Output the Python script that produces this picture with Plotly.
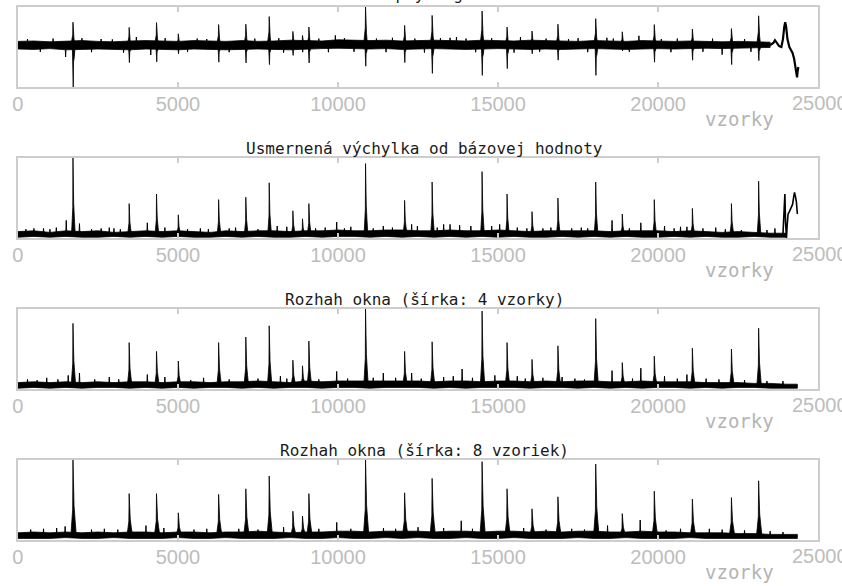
import plotly.graph_objects as go

# ---------------------------------------------------------------------------
# Data (sample index on x, arbitrary amplitude units on y)
# ---------------------------------------------------------------------------

# envelope nodes of the background noise band
band_x = list(range(0, 24001, 500)) + [24350]

# --- panel 1: raw signal (bipolar beats) ---
raw_hi = [0.14, 0.15, 0.13, 0.14, 0.16, 0.14, 0.13, 0.15, 0.16, 0.15, 0.14, 0.16,
          0.15, 0.14, 0.16, 0.14, 0.15, 0.17, 0.16, 0.15, 0.18, 0.17, 0.16, 0.17,
          0.15, 0.16, 0.17, 0.16, 0.15, 0.17, 0.16, 0.15, 0.17, 0.16, 0.15, 0.14,
          0.16, 0.15, 0.14, 0.16, 0.15, 0.14, 0.15, 0.14, 0.13, 0.14, 0.13, 0.12]
raw_lo = [-0.05, -0.06, -0.04, -0.07, -0.06, -0.05, -0.06, -0.07, -0.05, -0.06, -0.07, -0.05,
          -0.06, -0.07, -0.06, -0.05, -0.06, -0.07, -0.05, -0.04, -0.03, -0.04, -0.05, -0.04,
          -0.06, -0.05, -0.04, -0.05, -0.06, -0.05, -0.04, -0.05, -0.06, -0.05, -0.06, -0.05,
          -0.04, -0.05, -0.06, -0.05, -0.04, -0.05, -0.04, -0.03, -0.04, -0.03, -0.02, -0.01]
raw_base = 0.05
beat_pos = [1720, 3475, 4330, 5010, 6270, 7120, 7850, 8590, 8890, 9090, 10860, 12080,
            12940, 14500, 15280, 16060, 16870, 18050, 18880, 19880, 21070, 22290, 23140]
raw_up = [0.62, 0.49, 0.61, 0.33, 0.56, 0.57, 0.76, 0.39, 0.29, 0.50, 1.00, 0.54,
          0.79, 0.90, 0.50, 0.40, 0.57, 0.71, 0.38, 0.56, 0.45, 0.46, 0.78]
raw_down = [-1.00, -0.39, -0.37, -0.17, -0.38, -0.40, -0.44, -0.21, -0.13, -0.40, -0.48, -0.39,
            -0.66, -0.71, -0.54, -0.17, -0.33, -0.71, -0.10, -0.38, -0.33, -0.44, -0.34]
raw_minor_pos = [300, 700, 1100, 1490, 2000, 2300, 2600, 2950, 3300, 3700, 4150, 4600,
                 5300, 5600, 5900, 6600, 7400, 8150, 8300, 9400, 9700, 9917, 10200, 10500,
                 11200, 11500, 11700, 12400, 12700, 13200, 13500, 13700, 14000, 14300, 14800,
                 15500, 15700, 16300, 16500, 17200, 17500, 17800, 18400, 18600, 19100, 19400,
                 20100, 20400, 20600, 21400, 21700, 22000, 22700, 22900]
raw_minor_val = [0.20, -0.12, 0.21, -0.25, 0.22, -0.13, 0.20, 0.19, -0.14, 0.25, -0.20, 0.22,
                 -0.12, 0.21, 0.20, -0.13, 0.21, 0.22, -0.14, 0.21, -0.13, 0.29, 0.22, -0.12,
                 0.21, -0.13, 0.23, 0.21, -0.14, 0.22, 0.23, 0.25, 0.21, -0.13, 0.22,
                 -0.14, 0.25, -0.12, 0.21, 0.20, 0.22, -0.13, 0.23, 0.21, -0.12, 0.28,
                 0.20, -0.13, 0.21, -0.12, 0.21, -0.19, 0.20, -0.12]
raw_tail_x = [23500, 23600, 23650, 23700, 23780, 23850, 23900, 23940, 23970, 24000, 24040,
              24100, 24150, 24200, 24250, 24290, 24320, 24340, 24360, 24380]
raw_tail_y = [0.05, 0.10, 0.17, 0.12, 0.02, 0.00, 0.20, 0.50, 0.62, 0.50, 0.20,
              0.00, -0.08, -0.15, -0.30, -0.50, -0.70, -0.76, -0.60, -0.50]

# --- panel 2: rectified deviation from baseline ---
dev_hi = [0.08, 0.09, 0.07, 0.09, 0.08, 0.09, 0.07, 0.08, 0.09, 0.08, 0.09, 0.08,
          0.07, 0.09, 0.08, 0.09, 0.09, 0.08, 0.09, 0.09, 0.10, 0.09, 0.09, 0.10,
          0.10, 0.09, 0.09, 0.10, 0.09, 0.09, 0.10, 0.09, 0.08, 0.09, 0.09, 0.09,
          0.09, 0.08, 0.09, 0.09, 0.09, 0.08, 0.09, 0.08, 0.07, 0.08, 0.07, 0.06, 0.06]
dev_lo = [0.01, 0.02, 0.01, 0.02, 0.01, 0.01, 0.02, 0.01, 0.02, 0.01, 0.02, 0.01,
          0.01, 0.02, 0.01, 0.02, 0.01, 0.01, 0.02, 0.01, 0.02, 0.02, 0.01, 0.02,
          0.01, 0.02, 0.01, 0.02, 0.01, 0.02, 0.01, 0.02, 0.01, 0.01, 0.02, 0.01,
          0.02, 0.01, 0.02, 0.01, 0.01, 0.02, 0.01, 0.02, 0.01, 0.01, 0.02, 0.01, 0.01]
dev_peak = [1.00, 0.43, 0.55, 0.29, 0.48, 0.51, 0.69, 0.34, 0.24, 0.43, 0.93, 0.47,
            0.70, 0.83, 0.55, 0.33, 0.50, 0.70, 0.30, 0.48, 0.37, 0.43, 0.71]
dev_minor_pos = [250, 500, 800, 1000, 1200, 1510, 1923, 2300, 2600, 2854, 3000, 3200, 4043,
                 4591, 5300, 5700, 5950, 6600, 6800, 7500, 8100, 8400, 9300, 9600, 9958,
                 10200, 10400, 11100, 11415, 11700, 12300, 12480, 13100, 13300, 13500, 13800,
                 14150, 14800, 15050, 15600, 15900, 16400, 16650, 17300, 17600, 17800, 18561,
                 19100, 19460, 20200, 20500, 20700, 20900, 21400, 21800, 22100, 22600, 23400,
                 23649]
dev_minor_val = [0.11, 0.12, 0.12, 0.11, 0.13, 0.22, 0.18, 0.11, 0.12, 0.13, 0.12, 0.11, 0.19,
                 0.13, 0.11, 0.12, 0.11, 0.12, 0.13, 0.11, 0.15, 0.14, 0.12, 0.13, 0.20,
                 0.12, 0.14, 0.12, 0.15, 0.13, 0.17, 0.15, 0.13, 0.17, 0.17, 0.16,
                 0.15, 0.15, 0.17, 0.13, 0.12, 0.12, 0.13, 0.12, 0.13, 0.12, 0.22,
                 0.12, 0.19, 0.15, 0.12, 0.14, 0.14, 0.12, 0.13, 0.11, 0.10, 0.10,
                 0.12]
dev_tail_x = [23900, 23940, 23960, 23980, 24010, 24030, 24060, 24100, 24150, 24200,
              24230, 24260, 24290, 24320, 24350]
dev_tail_y = [0.05, 0.30, 0.55, 0.20, 0.00, 0.15, 0.30, 0.33, 0.38, 0.42,
              0.50, 0.57, 0.52, 0.45, 0.30]

# --- panel 3: window range, width 4 ---
r4_hi = [0.08, 0.09, 0.08, 0.09, 0.08, 0.09, 0.08, 0.09, 0.09, 0.08, 0.09, 0.09,
         0.08, 0.09, 0.09, 0.10, 0.09, 0.08, 0.10, 0.09, 0.10, 0.10, 0.10, 0.10,
         0.10, 0.10, 0.09, 0.10, 0.10, 0.09, 0.10, 0.10, 0.09, 0.10, 0.09, 0.10,
         0.10, 0.09, 0.09, 0.10, 0.09, 0.09, 0.09, 0.08, 0.08, 0.08, 0.07, 0.07, 0.06, 0.06]
r4_lo = [0.01, 0.02, 0.01, 0.02, 0.01, 0.02, 0.02, 0.01, 0.02, 0.01, 0.02, 0.01,
         0.02, 0.02, 0.01, 0.02, 0.01, 0.02, 0.02, 0.01, 0.02, 0.02, 0.01, 0.02,
         0.02, 0.02, 0.01, 0.02, 0.01, 0.02, 0.02, 0.02, 0.01, 0.02, 0.02, 0.01,
         0.02, 0.01, 0.02, 0.01, 0.02, 0.02, 0.01, 0.02, 0.01, 0.02, 0.02, 0.01, 0.01, 0.01]
r4_peak = [0.82, 0.58, 0.47, 0.35, 0.58, 0.65, 0.79, 0.36, 0.29, 0.60, 1.00, 0.47,
           0.59, 0.975, 0.58, 0.37, 0.54, 0.88, 0.33, 0.41, 0.51, 0.50, 0.76]
r4_minor_pos = [300, 600, 900, 1250, 1571, 1923, 2400, 2854, 3150, 4043, 4591, 5400, 5800,
                6600, 7500, 8200, 8400, 9400, 9958, 10300, 11100, 11415, 11800, 12300, 12600,
                13300, 13600, 13877, 14200, 14900, 15600, 15850, 16400, 17000, 17400, 17700,
                18561, 19200, 19460, 20200, 20600, 20900, 21500, 21900, 22700, 23400, 23900]
r4_minor_val = [0.12, 0.11, 0.14, 0.12, 0.17, 0.20, 0.12, 0.15, 0.12, 0.18, 0.15, 0.11, 0.14,
                0.12, 0.13, 0.16, 0.13, 0.12, 0.22, 0.13, 0.14, 0.20, 0.14, 0.20, 0.13,
                0.15, 0.16, 0.25, 0.14, 0.17, 0.16, 0.13, 0.14, 0.15, 0.13, 0.12,
                0.23, 0.13, 0.26, 0.16, 0.13, 0.18, 0.13, 0.12, 0.11, 0.10, 0.10]

# --- panel 4: window range, width 8 ---
r8_hi = [0.09, 0.10, 0.09, 0.10, 0.09, 0.10, 0.09, 0.10, 0.10, 0.09, 0.10, 0.10,
         0.09, 0.10, 0.10, 0.11, 0.10, 0.09, 0.10, 0.10, 0.11, 0.11, 0.10, 0.11,
         0.11, 0.11, 0.10, 0.11, 0.11, 0.10, 0.11, 0.11, 0.10, 0.11, 0.10, 0.11,
         0.11, 0.10, 0.10, 0.11, 0.10, 0.10, 0.09, 0.09, 0.09, 0.08, 0.08, 0.07, 0.07, 0.07]
r8_lo = [0.02, 0.02, 0.02, 0.03, 0.02, 0.02, 0.03, 0.02, 0.02, 0.02, 0.03, 0.02,
         0.02, 0.03, 0.02, 0.02, 0.02, 0.03, 0.02, 0.02, 0.03, 0.02, 0.02, 0.03,
         0.02, 0.03, 0.02, 0.02, 0.03, 0.02, 0.02, 0.03, 0.02, 0.02, 0.02, 0.03,
         0.02, 0.02, 0.03, 0.02, 0.02, 0.02, 0.03, 0.02, 0.02, 0.02, 0.02, 0.02, 0.02, 0.02]
r8_peak = [1.00, 0.58, 0.58, 0.34, 0.57, 0.64, 0.80, 0.36, 0.30, 0.58, 1.00, 0.59,
           0.77, 0.98, 0.64, 0.39, 0.54, 0.95, 0.33, 0.61, 0.51, 0.53, 0.74]
r8_minor_pos = [400, 800, 1210, 1475, 2300, 2700, 3120, 4000, 4560, 5500, 5900, 6900, 7500,
                8300, 9400, 9960, 10400, 11420, 11800, 12500, 13300, 13850, 14200, 15800,
                16500, 17300, 17700, 18420, 19440, 20250, 20700, 21600, 22000, 22700, 23500,
                23900]
r8_minor_val = [0.13, 0.14, 0.15, 0.17, 0.13, 0.14, 0.13, 0.18, 0.15, 0.13, 0.14, 0.14, 0.13,
                0.16, 0.14, 0.22, 0.14, 0.15, 0.14, 0.16, 0.15, 0.24, 0.14, 0.15,
                0.13, 0.14, 0.13, 0.18, 0.25, 0.12, 0.14, 0.14, 0.13, 0.12, 0.11,
                0.10]

titles = ["Vstupný signál",
          "Usmernená výchylka od bázovej hodnoty",
          "Rozhah okna (šírka: 4 vzorky)",
          "Rozhah okna (šírka: 8 vzoriek)"]
x_ticks = [0, 5000, 10000, 15000, 20000, 25000]
x_label = "vzorky"

# ---------------------------------------------------------------------------
# Helpers that turn the lists above into drawable polygons / polylines
# ---------------------------------------------------------------------------
UP_DX = [-60, -30, -8, 0, 6, 30, 60]
UP_K = [0, 0.35, 0.45, 1, 0.40, 0.30, 0]
DOWN_DX = [-20, -5, 8, 18, 40, 70]
DOWN_K = [0, 0.30, 1, 0.40, 0.30, 0]

PEAK_DX = [-45, -20, -6, 0, 8, 22, 45, 70]
PEAK_K = [0, 0.30, 0.35, 1, 0.50, 0.40, 0.20, 0]


def band_polygon(hi, lo):
    xs = band_x[:len(hi)]
    return xs + xs[::-1], list(hi) + list(lo)[::-1]


def shape_polys(pos, amp, base, dxs, ks, widen=1.0):
    xs, ys = [], []
    for p, a in zip(pos, amp):
        for dx, k in zip(dxs, ks):
            xs.append(p + dx * widen)
            ys.append(base + k * (a - base))
        xs.append(None)
        ys.append(None)
    return xs, ys


def minor_lines(pos, val, base):
    xs, ys = [], []
    for p, v in zip(pos, val):
        xs += [p - 15, p, p + 15, None]
        ys += [base, v, base, None]
    return xs, ys


# ---------------------------------------------------------------------------
# Figure
# ---------------------------------------------------------------------------
W, H = 842, 586
X0, X1 = 12, 818
TOPS = [7, 158, 309, 460]
PANEL_H = 80
Y_RANGES = [[-1.0, 1.0], [0, 1.0], [0, 1.0], [0, 1.0]]

fig = go.Figure()


def axes_of(k):
    ax = "" if k == 0 else str(k + 1)
    return "x" + ax, "y" + ax


def add_fill(k, xy, width=0.8):
    xa, ya = axes_of(k)
    fig.add_trace(go.Scatter(x=xy[0], y=xy[1], fill="toself", fillcolor="black",
                             line=dict(color="black", width=width), mode="lines",
                             xaxis=xa, yaxis=ya, hoverinfo="skip"))


def add_line(k, xy, width=1.0):
    xa, ya = axes_of(k)
    fig.add_trace(go.Scatter(x=xy[0], y=xy[1], mode="lines",
                             line=dict(color="black", width=width),
                             xaxis=xa, yaxis=ya, hoverinfo="skip", connectgaps=False))


base2 = 0.05
# panel 1
add_fill(0, band_polygon(raw_hi, raw_lo))
add_line(0, minor_lines(raw_minor_pos, raw_minor_val, raw_base))
add_fill(0, shape_polys(beat_pos, raw_up, raw_base, UP_DX, UP_K))
add_fill(0, shape_polys(beat_pos, raw_down, raw_base, DOWN_DX, DOWN_K))
add_line(0, (raw_tail_x, raw_tail_y), width=2.2)
# panel 2
add_fill(1, band_polygon(dev_hi, dev_lo))
add_line(1, minor_lines(dev_minor_pos, dev_minor_val, base2))
add_fill(1, shape_polys(beat_pos, dev_peak, base2, PEAK_DX, PEAK_K))
add_line(1, (dev_tail_x, dev_tail_y), width=1.6)
# panel 3
add_fill(2, band_polygon(r4_hi, r4_lo))
add_line(2, minor_lines(r4_minor_pos, r4_minor_val, base2))
add_fill(2, shape_polys(beat_pos, r4_peak, base2, PEAK_DX, PEAK_K, 1.2))
# panel 4
add_fill(3, band_polygon(r8_hi, r8_lo))
add_line(3, minor_lines(r8_minor_pos, r8_minor_val, base2))
add_fill(3, shape_polys(beat_pos, r8_peak, base2, PEAK_DX, PEAK_K, 1.5))

GRAY_LINE = "#cdcdcd"
TICK_FONT = dict(family="Liberation Sans, Arial, sans-serif", size=20, color="#bdbdbd")
layout = dict(
    width=W, height=H, margin=dict(l=0, r=0, t=0, b=0),
    paper_bgcolor="white", plot_bgcolor="white", showlegend=False,
)
annotations = []
for k in range(4):
    ax = "" if k == 0 else str(k + 1)
    top, bot = TOPS[k], TOPS[k] + PANEL_H
    layout["xaxis" + ax] = dict(
        domain=[X0 / W, X1 / W], range=[0, 25000], anchor="y" + ax,
        tickvals=x_ticks, ticktext=[str(t) for t in x_ticks],
        ticks="inside", ticklen=5, tickwidth=1.5, tickcolor=GRAY_LINE,
        showline=True, linecolor=GRAY_LINE, linewidth=1.5, mirror="ticks",
        showgrid=False, zeroline=False, tickfont=TICK_FONT, ticklabelstandoff=-2,
    )
    layout["yaxis" + ax] = dict(
        domain=[1 - bot / H, 1 - top / H], range=Y_RANGES[k], anchor="x" + ax,
        showline=True, linecolor=GRAY_LINE, linewidth=1.5, mirror=True,
        showticklabels=False, ticks="", showgrid=False, zeroline=False,
    )
    # the last tick label sits on the page edge; draw it explicitly
    annotations.append(dict(
        text=str(x_ticks[-1]), xref="paper", yref="paper", x=(X1 + 2) / W,
        y=1 - (bot + 16) / H, xanchor="center", yanchor="middle", showarrow=False,
        font=TICK_FONT,
    ))
    title_gap = 12 if k == 0 else 10
    annotations.append(dict(
        text=titles[k], xref="paper", yref="paper", x=421 / W, y=1 - (top - title_gap) / H,
        xanchor="center", yanchor="middle", showarrow=False,
        font=dict(family="DejaVu Sans Mono", size=16, color="#1a1a1a"),
    ))
    annotations.append(dict(
        text=x_label, xref="paper", yref="paper", x=739 / W, y=1 - (bot + 32) / H,
        xanchor="center", yanchor="middle", showarrow=False,
        font=dict(family="DejaVu Sans Mono", size=19, color="#b4b4b4"),
    ))
layout["annotations"] = annotations
fig.update_layout(**layout)

fig.write_html("out.html")
